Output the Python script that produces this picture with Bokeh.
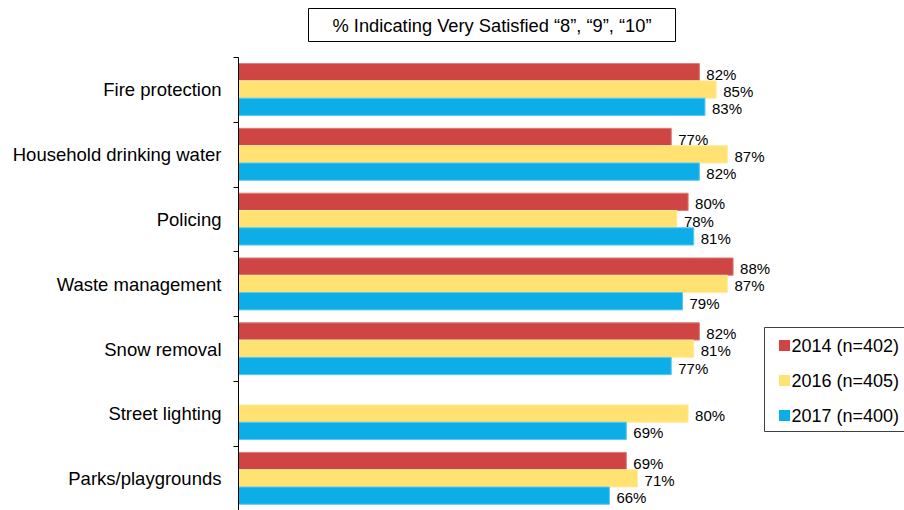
from bokeh.plotting import figure
from bokeh.models import ColumnDataSource, Range1d, FixedTicker, Title
from bokeh.embed import file_html
from bokeh.resources import INLINE
from bokeh.core.properties import value

categories = ["Fire protection", "Household drinking water", "Policing",
              "Waste management", "Snow removal", "Street lighting",
              "Parks/playgrounds"]
series_names = ["2014 (n=402)", "2016 (n=405)", "2017 (n=400)"]
v2014 = [82, 77, 80, 88, 82, None, 69]
v2016 = [85, 87, 78, 87, 81, 80, 71]
v2017 = [83, 82, 81, 79, 77, 69, 66]
colors = ["#CE4543", "#FFE271", "#0DAEE8"]
edge_colors = ["#DE7B79", "#FFEBA0", "#5DC8EF"]
title_text = "% Indicating Very Satisfied \u201c8\u201d, \u201c9\u201d, \u201c10\u201d"

FONT = "Liberation Sans"
W, H = 904, 510
LEFT, TOP = 238, 57
X_END = 118.5
Y_END = 6.99
BAR_H = 0.267

p = figure(width=W, height=H, x_range=Range1d(0, X_END), y_range=Range1d(Y_END, 0),
           output_backend="svg", toolbar_location=None, x_axis_location=None,
           min_border_left=LEFT, min_border_right=0, min_border_top=TOP,
           min_border_bottom=0, title=None)
p.outline_line_color = None
p.xgrid.visible = False
p.ygrid.visible = False

# spacer between frame and title box
p.add_layout(Title(text=" ", text_font_size="4px", standoff=4), "above")
t = Title(text=title_text, text_font=FONT, text_font_size="18.3px",
          text_font_style="normal", text_color="black", align="left",
          offset=70, standoff=10, border_line_color="black", border_line_width=1,
          background_fill_color="white",
          padding=dict(left=24, right=24, top=6, bottom=6))
p.add_layout(t, "above")

# bars
all_series = [v2014, v2016, v2017]
ys, rights, fills, lines, labels = [], [], [], [], []
for k, vals in enumerate(all_series):
    for i, v in enumerate(vals):
        if v is None:
            continue
        ys.append(i + 0.494 + (k - 1) * BAR_H)
        rights.append(v)
        fills.append(colors[k])
        lines.append(edge_colors[k])
        labels.append(f"{v}%")
src = ColumnDataSource(dict(y=ys, right=rights, fill=fills, line=lines, label=labels))
p.hbar(y="y", left=0, right="right", height=BAR_H, fill_color="fill",
       line_color="line", line_width=1, source=src)
p.text(x="right", y="y", text="label", source=src, x_offset=7, y_offset=2,
       text_baseline="middle", text_align="left", text_font=value(FONT),
       text_font_size="15px", text_color="black")

# y axis: labels at band centres, ticks at band boundaries
ax = p.yaxis[0]
ax.ticker = FixedTicker(ticks=[i + 0.5 for i in range(len(categories))],
                        minor_ticks=list(range(len(categories) + 1)))
ax.major_label_overrides = {i + 0.5: c for i, c in enumerate(categories)}
ax.major_tick_out = 0
ax.major_tick_in = 0
ax.minor_tick_out = 5
ax.minor_tick_in = 0
ax.minor_tick_line_color = "black"
ax.axis_line_color = "black"
ax.major_label_standoff = 12
ax.major_label_text_font = FONT
ax.major_label_text_font_size = "18.5px"
ax.major_label_text_color = "black"

# legend (manual, placed in pixel terms)
px_x = (W - LEFT) / X_END
px_y = (H - TOP) / Y_END
def dx(px):
    return (px - LEFT) / px_x
def dy(py):
    return (py - TOP) / px_y

p.quad(left=dx(764), right=X_END + 5, top=dy(327), bottom=dy(431),
       fill_color="white", line_color="#404040", line_width=1)
leg_y = [dy(345), dy(380), dy(415)]
p.scatter(x=[dx(784)] * 3, y=leg_y, marker="square", size=11, fill_color=colors,
          line_color=None)
p.text(x=[dx(791)] * 3, y=leg_y, text=series_names, text_baseline="middle",
       text_align="left", text_font=value(FONT), text_font_size="18px",
       text_color="black")

open("out.html", "w").write(file_html(p, INLINE))
